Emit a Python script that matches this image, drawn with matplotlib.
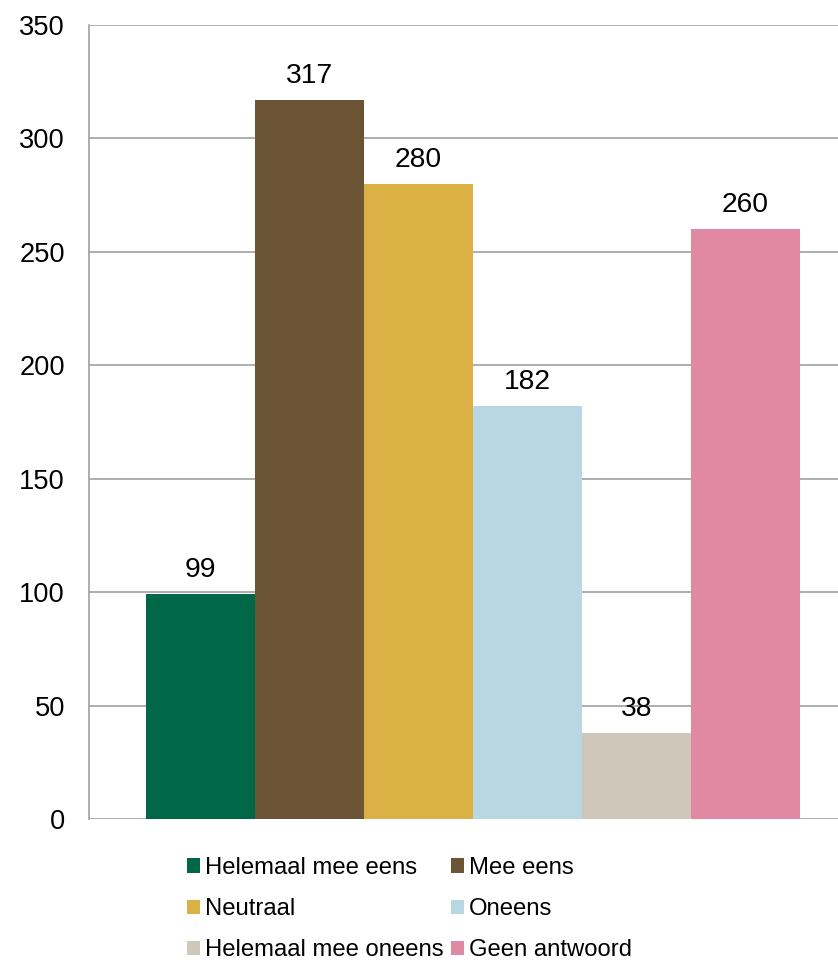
import matplotlib
matplotlib.use("Agg")
import matplotlib.pyplot as plt
from matplotlib.patches import Patch

plt.rcParams['font.family'] = ['Liberation Sans', 'DejaVu Sans']

categories = ["Helemaal mee eens", "Mee eens", "Neutraal", "Oneens",
              "Helemaal mee oneens", "Geen antwoord"]
values = [99, 317, 280, 182, 38, 260]
colors = ["#006747", "#6B5434", "#DBB146", "#B9D7E2", "#D0C7BB", "#E189A3"]
yticks = [0, 50, 100, 150, 200, 250, 300, 350]

W, H = 838, 963
fig = plt.figure(figsize=(W / 100, H / 100), dpi=100)
ax = fig.add_axes([89 / W, 1 - 819 / H, (838 - 89) / W, (819 - 25) / H])

n = len(values)
group = 0.8
bw = group / n
for i, (c, v, col) in enumerate(zip(categories, values, colors)):
    x = -group / 2 + bw * (i + 0.5)
    ax.bar(x, v, width=bw, color=col, label=c, zorder=3, linewidth=0)
    ax.annotate(f"{v}", (x, v), xytext=(0, 8), textcoords="offset points",
                ha="center", va="bottom", fontsize=20.3, color="#000000")

ax.set_xlim(-(473 - 89) / 817.5, (838 - 473) / 817.5)
ax.set_ylim(0, 350)
ax.set_yticks(yticks)
ax.set_yticklabels([str(t) for t in yticks], fontsize=19.6)
ax.tick_params(axis='y', length=0, pad=17.3)
ax.set_xticks([])
ax.grid(axis='y', color="#A0A0A0", linewidth=1.2, zorder=0)
for s in ['top', 'right', 'bottom']:
    ax.spines[s].set_visible(False)
ax.spines['left'].set_color("#A0A0A0")
ax.spines['left'].set_linewidth(1.2)

# legend is filled column-wise; reorder so it reads row-wise
order = [0, 2, 4, 1, 3, 5]
handles = [Patch(facecolor=colors[k], edgecolor='none') for k in order]
labels = [categories[k] for k in order]
fig.legend(handles, labels, loc='upper left',
           bbox_to_anchor=(187 / W, 1 - 857 / H), ncol=2, frameon=False,
           fontsize=17.2, handlelength=0.54, handleheight=0.54,
           handletextpad=0.22, columnspacing=0.3, labelspacing=0.8,
           borderpad=0, borderaxespad=0)

fig.savefig("out.png", dpi=100)
